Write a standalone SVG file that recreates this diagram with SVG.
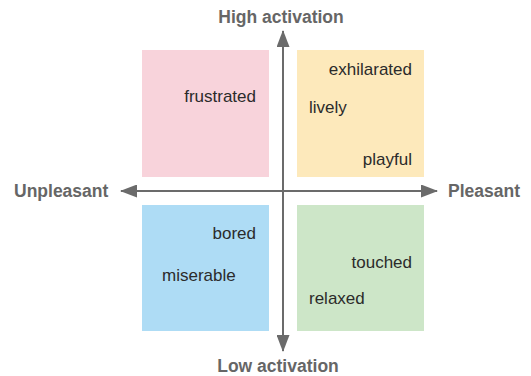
<svg xmlns="http://www.w3.org/2000/svg" width="531" height="376" viewBox="0 0 531 376">
  <defs>
    <style>
      .quad { stroke: none; }
      .word { font-family: "Liberation Sans", Arial, sans-serif; font-size: 17px; fill: #2b2b2b; }
      .axis-label { font-family: "Liberation Sans", Arial, sans-serif; font-size: 17.5px; font-weight: bold; fill: #666666; }
      .axis { stroke: #6b6b6b; stroke-width: 2; fill: none; }
    </style>
    <marker id="arrow" viewBox="0 0 17 13" refX="16" refY="6.5" markerWidth="17" markerHeight="13" markerUnits="userSpaceOnUse" orient="auto">
      <path d="M0,0 L17,6.5 L0,13 Z" fill="#6b6b6b"/>
    </marker>
  </defs>
  <rect width="531" height="376" fill="#ffffff"/>

  <!-- quadrants -->
  <g id="q-unpleasant-high">
    <rect class="quad" x="142" y="50" width="127" height="127" fill="#f8d3db"/>
    <text class="word" x="256" y="102" text-anchor="end">frustrated</text>
  </g>
  <g id="q-pleasant-high">
    <rect class="quad" x="297" y="50" width="127" height="127" fill="#fde9bb"/>
    <text class="word" x="412" y="75" text-anchor="end">exhilarated</text>
    <text class="word" x="309" y="113">lively</text>
    <text class="word" x="412" y="165" text-anchor="end">playful</text>
  </g>
  <g id="q-unpleasant-low">
    <rect class="quad" x="142" y="205" width="127" height="126" fill="#aedcf5"/>
    <text class="word" x="256" y="239" text-anchor="end">bored</text>
    <text class="word" x="162" y="281">miserable</text>
  </g>
  <g id="q-pleasant-low">
    <rect class="quad" x="297" y="205" width="127" height="126" fill="#cde6c8"/>
    <text class="word" x="412" y="268" text-anchor="end">touched</text>
    <text class="word" x="309" y="304">relaxed</text>
  </g>

  <!-- axes -->
  <g id="connectors">
    <line class="axis" x1="283" y1="191" x2="283" y2="31" marker-end="url(#arrow)"/>
    <line class="axis" x1="283" y1="191" x2="283" y2="351" marker-end="url(#arrow)"/>
    <line class="axis" x1="283" y1="191" x2="121" y2="191" marker-end="url(#arrow)"/>
    <line class="axis" x1="283" y1="191" x2="437" y2="191" marker-end="url(#arrow)"/>
  </g>

  <!-- axis labels -->
  <g id="axis-labels">
    <text class="axis-label" x="281" y="23" text-anchor="middle">High activation</text>
    <text class="axis-label" x="278" y="372" text-anchor="middle">Low activation</text>
    <text class="axis-label" x="14" y="197">Unpleasant</text>
    <text class="axis-label" x="448" y="197">Pleasant</text>
  </g>
</svg>
